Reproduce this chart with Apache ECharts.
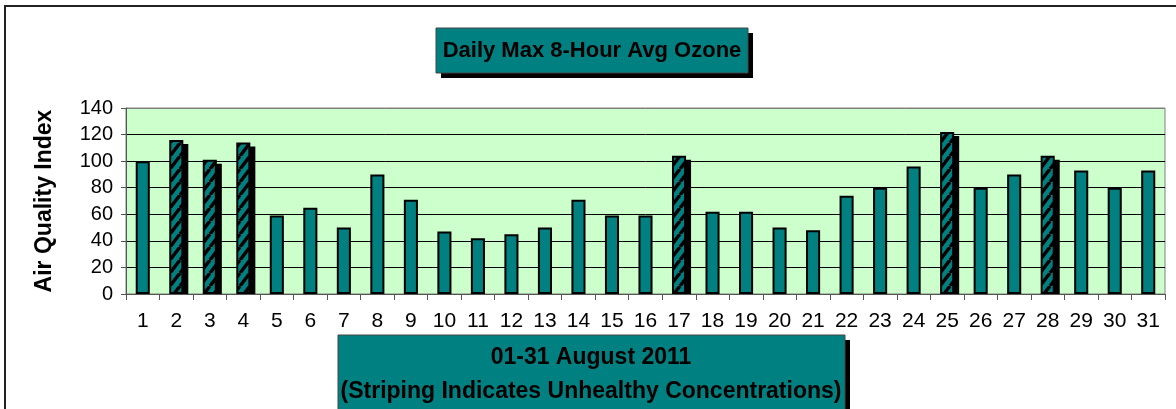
<!DOCTYPE html>
<html>
<head>
<meta charset="utf-8">
<script src="https://cdn.jsdelivr.net/npm/echarts@6/dist/echarts.min.js"></script>
<style>
  html, body { margin: 0; padding: 0; background: #fff; }
  #chart { width: 1176px; height: 409px; }
</style>
</head>
<body>
<div id="chart"></div>
<script>
const days = ["1", "2", "3", "4", "5", "6", "7", "8", "9", "10", "11", "12", "13", "14", "15", "16",
  "17", "18", "19", "20", "21", "22", "23", "24", "25", "26", "27", "28", "29", "30", "31"];
const aqi = [100, 116, 101, 114, 59, 65, 50, 90, 71, 47, 42, 45, 50, 71, 59, 59,
  104, 62, 62, 50, 48, 74, 80, 96, 122, 80, 90, 104, 93, 80, 93];
const unhealthyAbove = 100;
const yMin = 0, yMax = 140, yStep = 20;

const title = "Daily Max 8-Hour Avg Ozone";
const xTitle = ["01-31 August 2011", "(Striping Indicates Unhealthy Concentrations)"];
const yTitle = "Air Quality Index";

const FONT = "'Liberation Sans', Arial, sans-serif";
const TEAL = "#008080";
const BAR_W = 0.42;

// diagonal stripe tile for the unhealthy days
function stripeTile() {
  const w = 10, h = 13;
  const c = document.createElement("canvas");
  c.width = w; c.height = h;
  const ctx = c.getContext("2d");
  ctx.fillStyle = TEAL;
  ctx.fillRect(0, 0, w, h);
  ctx.strokeStyle = "#000";
  ctx.lineWidth = 3.5;
  [-w, 0, w].forEach((dx) => {
    ctx.beginPath();
    ctx.moveTo(dx, h);
    ctx.lineTo(dx + w, 0);
    ctx.stroke();
  });
  return c;
}
const stripes = { image: stripeTile(), repeat: "repeat" };

const barData = aqi.map((v) => ({
  value: v,
  itemStyle: v > unhealthyAbove ? { color: stripes } : undefined,
}));
const shadowData = aqi
  .map((v, i) => [i, v])
  .filter((d) => d[1] > unhealthyAbove);

const chart = echarts.init(document.getElementById("chart"));

chart.setOption({
  animation: false,
  backgroundColor: "#fff",
  textStyle: { fontFamily: FONT },
  grid: {
    left: 126, right: 11, top: 108, bottom: 115,
    show: true,
    backgroundColor: "#CCFFCC",
    borderColor: "#808080",
    borderWidth: 1,
  },
  xAxis: {
    type: "category",
    data: days,
    boundaryGap: true,
    axisLine: { lineStyle: { color: "#555", width: 1 } },
    axisTick: { show: true, length: 6, lineStyle: { color: "#555" } },
    axisLabel: { color: "#000", fontSize: 21, fontFamily: FONT, margin: 17, interval: 0 },
    splitLine: { show: false },
  },
  yAxis: {
    type: "value",
    min: yMin, max: yMax, interval: yStep,
    name: yTitle,
    nameLocation: "middle",
    nameRotate: 90,
    nameGap: 70,
    nameTextStyle: { color: "#000", fontSize: 23, fontWeight: "bold", fontFamily: FONT },
    axisLine: { show: true, lineStyle: { color: "#555", width: 1 } },
    axisTick: { show: true, length: 5, lineStyle: { color: "#555" } },
    axisLabel: { color: "#000", fontSize: 20, fontFamily: FONT, margin: 13 },
    splitLine: {
      show: true,
      lineStyle: { color: ["#000", "#000", "#000", "#000", "#000", "#000", "#000", "#808080"], width: 1 },
    },
  },
  series: [
    {
      type: "custom",
      z: 1,
      data: shadowData,
      renderItem: (params, api) => {
        const base = api.coord([api.value(0), 0]);
        const top = api.coord([api.value(0), api.value(1)]);
        const w = api.size([1, 0])[0] * BAR_W;
        return {
          type: "rect",
          shape: { x: top[0] - w / 2 + 5, y: top[1] + 4, width: w, height: base[1] - top[1] - 4 },
          style: { fill: "#000" },
        };
      },
    },
    {
      type: "bar",
      z: 2,
      data: barData,
      barWidth: BAR_W * 100 + "%",
      itemStyle: { color: TEAL, borderColor: "#000", borderWidth: 2 },
    },
  ],
  graphic: [
    // outer chart frame (runs past the right and bottom edges)
    { type: "rect", shape: { x: 5, y: 6, width: 1200, height: 440 },
      style: { fill: "none", stroke: "#222", lineWidth: 2 }, z: 100 },
    // title box
    { type: "rect", shape: { x: 441, y: 33, width: 312, height: 45 }, style: { fill: "#000" }, z: 100 },
    { type: "rect", shape: { x: 436, y: 28, width: 312, height: 45 },
      style: { fill: TEAL, stroke: "#444", lineWidth: 1 }, z: 101 },
    { type: "text", x: 592, y: 51, z: 102,
      style: { text: title, fill: "#000", font: "bold 22px " + FONT, align: "center", verticalAlign: "middle" } },
    // x axis title box
    { type: "rect", shape: { x: 343, y: 340, width: 507, height: 90 }, style: { fill: "#000" }, z: 100 },
    { type: "rect", shape: { x: 338, y: 335, width: 507, height: 90 },
      style: { fill: TEAL, stroke: "#444", lineWidth: 1 }, z: 101 },
    { type: "text", x: 591, y: 358, z: 102,
      style: { text: xTitle[0], fill: "#000", font: "bold 23px " + FONT, align: "center", verticalAlign: "middle" } },
    { type: "text", x: 591, y: 392, z: 102,
      style: { text: xTitle[1], fill: "#000", font: "bold 23px " + FONT, align: "center", verticalAlign: "middle" } },
  ],
});
</script>
</body>
</html>
